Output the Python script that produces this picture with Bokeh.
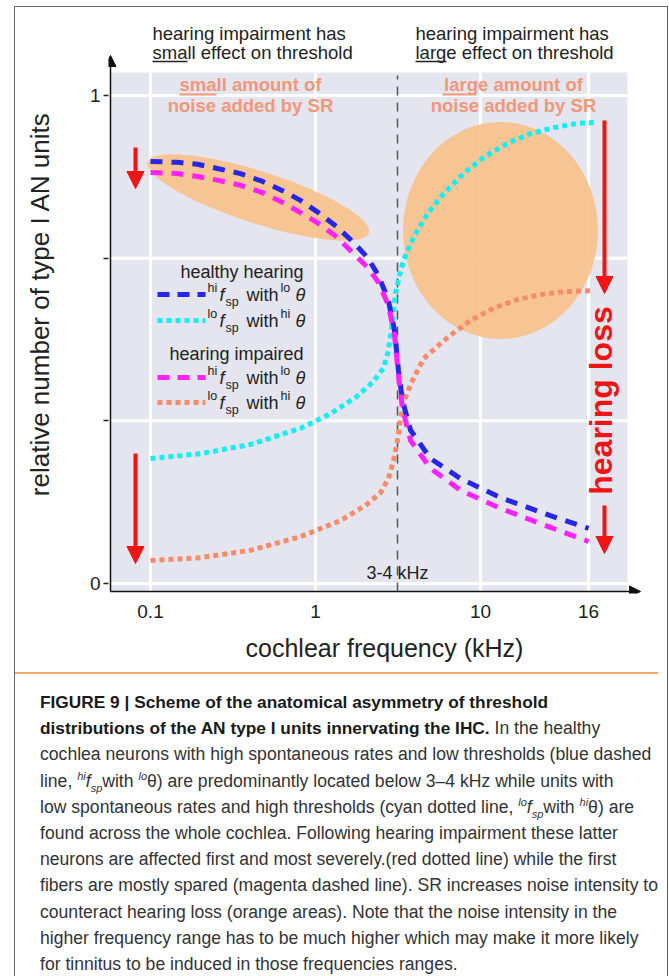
import numpy as np
from bokeh.plotting import figure
from bokeh.models import Range1d, FixedTicker, Arrow, NormalHead, Div, CustomJSTickFormatter
from bokeh.layouts import column
from bokeh.core.properties import value
from bokeh.embed import file_html
from bokeh.resources import INLINE

FONT = "Liberation Sans"

# ---- axes (x = position in decades of cochlear frequency; "16" sits at 1.655 on this schematic axis)
x_tick_pos = [-1.0, 0.0, 1.0, 1.655]
x_tick_labels = ["0.1", "1", "10", "16"]
y_tick_pos = [0.0, 1 / 3, 2 / 3, 1.0]
y_tick_labels = ["0", "", "", "1"]
boundary_x = 0.497          # 3-4 kHz border

# ---- series
healthy_hi_x = [-1.000, -0.836, -0.715, -0.588, -0.455, -0.321, -0.200, -0.091, 0.018, 0.133, 0.230, 0.315,
                0.382, 0.442, 0.479, 0.503, 0.527, 0.576, 0.697, 0.879, 1.121, 1.424, 1.655]
healthy_hi_y = [0.865, 0.863, 0.859, 0.850, 0.840, 0.824, 0.805, 0.785, 0.760, 0.730, 0.699, 0.668,
                0.631, 0.580, 0.518, 0.436, 0.375, 0.314, 0.256, 0.215, 0.176, 0.139, 0.113]

impaired_hi_x = [-1.000, -0.836, -0.715, -0.588, -0.455, -0.321, -0.200, -0.091, 0.018, 0.133, 0.224, 0.315,
                 0.382, 0.442, 0.479, 0.503, 0.527, 0.576, 0.697, 0.879, 1.121, 1.424, 1.655]
impaired_hi_y = [0.842, 0.840, 0.834, 0.826, 0.816, 0.801, 0.781, 0.760, 0.738, 0.709, 0.678, 0.648,
                 0.617, 0.570, 0.508, 0.426, 0.359, 0.293, 0.236, 0.191, 0.154, 0.115, 0.086]

healthy_lo_x = [-1.000, -0.697, -0.394, -0.091, 0.091, 0.242, 0.345, 0.412, 0.442, 0.467, 0.485, 0.509,
                0.533, 0.594, 0.679, 0.776, 0.897, 1.018, 1.164, 1.303, 1.442, 1.588, 1.709]
healthy_lo_y = [0.256, 0.266, 0.285, 0.318, 0.348, 0.381, 0.412, 0.441, 0.477, 0.539, 0.594, 0.631,
                0.662, 0.709, 0.758, 0.799, 0.840, 0.873, 0.902, 0.922, 0.934, 0.943, 0.945]

impaired_lo_x = [-1.000, -0.697, -0.394, -0.091, 0.152, 0.303, 0.394, 0.442, 0.473, 0.497, 0.515, 0.539,
                 0.576, 0.655, 0.800, 0.939, 1.079, 1.224, 1.364, 1.503, 1.685]
impaired_lo_y = [0.047, 0.053, 0.068, 0.096, 0.129, 0.160, 0.186, 0.215, 0.252, 0.293, 0.338, 0.375,
                 0.408, 0.461, 0.504, 0.539, 0.564, 0.582, 0.592, 0.598, 0.600]

# orange "noise added by SR" areas (centre x, centre y)
noise_x = [-0.3455, 1.1212]
noise_y = [0.791, 0.7234]

# red "hearing loss" arrows: (x, y_start, y_end)
loss_x = [-1.0909, -1.0909, 1.7515, 1.7515]
loss_y0 = [0.8934, 0.2664, 0.9488, 0.1598]
loss_y1 = [0.8094, 0.0410, 0.5943, 0.0615]

# ---- colours
BLUE, MAGENTA, CYAN, SALMON = "#2626e8", "#ff22ff", "#11f0f4", "#fa8a68"
ORANGE_TXT = "#f0987a"
RED = "#f01414"
INK = "#222222"

# ---- figure
X0, X1 = -1.2545, 2.0909
Y0, Y1 = -0.0205, 1.166
AX_X, AX_Y = -1.2424, -0.0164        # where the drawn axis lines sit
BG_R, BG_T = 1.891, 1.047

p = figure(width=652, height=665, x_range=Range1d(X0, X1), y_range=Range1d(Y0, Y1),
           output_backend="svg", toolbar_location=None,
           min_border_left=93, min_border_right=7, min_border_top=7, min_border_bottom=79,
           background_fill_color="white", border_fill_color="white", outline_line_color=None)
p.xgrid.visible = False
p.ygrid.visible = False

fmt_code = """
let best = 0, d = 1e9;
for (let i = 0; i < pos.length; i++) { const dd = Math.abs(pos[i] - tick); if (dd < d) { d = dd; best = i; } }
return lab[best];
"""
p.xaxis.ticker = FixedTicker(ticks=x_tick_pos)
p.xaxis.formatter = CustomJSTickFormatter(args=dict(pos=x_tick_pos, lab=x_tick_labels), code=fmt_code)
p.yaxis.ticker = FixedTicker(ticks=y_tick_pos)
p.yaxis.formatter = CustomJSTickFormatter(args=dict(pos=y_tick_pos, lab=y_tick_labels), code=fmt_code)

for ax in (p.xaxis[0], p.yaxis[0]):
    ax.axis_line_color = None
    ax.minor_tick_in = 0
    ax.minor_tick_out = 0
    ax.major_tick_in = 0
    ax.major_label_text_font = FONT
    ax.major_label_text_font_size = "19px"
    ax.major_label_text_color = INK
    ax.axis_label_text_font = FONT
    ax.axis_label_text_font_style = "normal"
    ax.axis_label_text_color = INK

p.yaxis.major_tick_out = 5
p.yaxis.major_tick_line_width = 1.5
p.yaxis.major_tick_line_color = INK
p.yaxis.major_label_standoff = 3
p.yaxis.axis_label = "relative number of type I AN units"
p.yaxis.axis_label_text_font_size = "26px"
p.yaxis.axis_label_standoff = 32

p.xaxis.major_tick_out = 0
p.xaxis.major_label_standoff = 11
p.xaxis.axis_label = "cochlear frequency (kHz)"
p.xaxis.axis_label_text_font_size = "25px"
p.xaxis.axis_label_standoff = 13

# plot background and white grid
p.quad(left=[AX_X], right=[BG_R], bottom=[AX_Y], top=[BG_T], fill_color="#e5e5ef", line_color=None)
p.segment(x0=x_tick_pos, y0=[AX_Y] * 4, x1=x_tick_pos, y1=[BG_T] * 4, line_color="white", line_width=3)
p.segment(x0=[AX_X] * 4, y0=y_tick_pos, x1=[BG_R] * 4, y1=y_tick_pos, line_color="white", line_width=3)

# orange noise areas
p.ellipse(x=noise_x, y=noise_y, width=[232, 195], height=[52, 217], angle=[-0.31, 0.0],
          width_units="screen", height_units="screen",
          fill_color="#f9c28c", fill_alpha=0.92, line_color=None)

# 3-4 kHz boundary
p.segment(x0=[boundary_x], y0=[AX_Y], x1=[boundary_x], y1=[1.041], line_color="#555555",
          line_width=1.5, line_dash="9 7")

# curves
p.line(impaired_lo_x, impaired_lo_y, line_color=SALMON, line_width=5, line_dash="5 4")
p.line(healthy_lo_x, healthy_lo_y, line_color=CYAN, line_width=5, line_dash="5 4")
p.line(healthy_hi_x, healthy_hi_y, line_color=BLUE, line_width=5, line_dash="12 9")
p.line(impaired_hi_x, impaired_hi_y, line_color=MAGENTA, line_width=5, line_dash="12 9")

# axis lines with arrow heads
p.add_layout(Arrow(end=NormalHead(size=11, fill_color="#111111", line_color="#111111"),
                   x_start=AX_X, y_start=AX_Y, x_end=AX_X, y_end=1.082, line_width=1.5, line_color="#111111"))
p.add_layout(Arrow(end=NormalHead(size=11, fill_color="#111111", line_color="#111111"),
                   x_start=AX_X, y_start=AX_Y, x_end=1.970, y_end=AX_Y, line_width=1.5, line_color="#111111"))

# red hearing-loss arrows
for xx, ya, yb in zip(loss_x, loss_y0, loss_y1):
    p.add_layout(Arrow(end=NormalHead(size=17, fill_color=RED, line_color=RED),
                       x_start=xx, y_start=ya, x_end=xx, y_end=yb, line_width=4, line_color=RED))

p.text(x=[1.7333], y=[0.375], text=["hearing loss"], angle=np.pi / 2, text_align="center",
       text_baseline="middle", text_font=value(FONT), text_font_size=value("32px"),
       text_font_style="bold", text_color=RED)

# header texts
p.text(x=[-0.9879, -0.9879, 0.6061, 0.6061], y=[1.127, 1.088, 1.127, 1.088],
       text=["hearing impairment has", "small effect on threshold",
             "hearing impairment has", "large effect on threshold"],
       text_align="left", text_baseline="middle", text_font=value(FONT),
       text_font_size=value("18.5px"), text_color=INK)
p.segment(x0=[-0.9879, 0.6061], y0=[1.0697, 1.0697], x1=[-0.7758, 0.7939], y1=[1.0697, 1.0697],
          line_color=INK, line_width=1.3)

p.text(x=[-0.394, -0.394, 1.20, 1.20], y=[1.0225, 0.9795, 1.0225, 0.9795],
       text=["small amount of", "noise added by SR", "large amount of", "noise added by SR"],
       text_align="center", text_baseline="middle", text_font=value(FONT),
       text_font_size=value("18.5px"), text_font_style="bold", text_color=ORANGE_TXT)
p.segment(x0=[-0.8242, 0.7697], y0=[1.002, 1.002], x1=[-0.600, 0.9758], y1=[1.002, 1.002],
          line_color=ORANGE_TXT, line_width=2)

p.text(x=[boundary_x], y=[0.0205], text=["3-4 kHz"], text_align="center", text_baseline="middle",
       text_font=value(FONT), text_font_size=value("18px"), text_color=INK)

# legend
leg_rows_y = [0.5922, 0.5389, 0.4221, 0.3709]
leg_colors = [BLUE, CYAN, MAGENTA, SALMON]
leg_dash = ["12 8", "5 4", "12 8", "5 4"]
leg_sup1 = ["hi", "lo", "hi", "lo"]
leg_sup2 = ["lo", "hi", "lo", "hi"]
p.text(x=[-0.0727, -0.0727], y=[0.6393, 0.4713], text=["healthy hearing", "hearing impaired"],
       text_align="right", text_baseline="middle", text_font=value(FONT),
       text_font_size=value("18px"), text_color=INK)
for yy, c, d in zip(leg_rows_y, leg_colors, leg_dash):
    p.line([-0.9576, -0.6667], [yy, yy], line_color=c, line_width=5, line_dash=d)
sup_dy, sub_dy = 0.0125, 0.0145
p.text(x=[-0.6545] * 4, y=[v + sup_dy for v in leg_rows_y], text=leg_sup1, text_align="left",
       text_baseline="middle", text_font=value(FONT), text_font_size=value("12.5px"), text_color=INK)
p.text(x=[-0.5818] * 4, y=leg_rows_y, text=["f"] * 4, text_align="left", text_baseline="middle",
       text_font=value(FONT), text_font_size=value("18px"), text_font_style="italic", text_color=INK)
p.text(x=[-0.5455] * 4, y=[v - sub_dy for v in leg_rows_y], text=["sp"] * 4, text_align="left",
       text_baseline="middle", text_font=value(FONT), text_font_size=value("12.5px"), text_color=INK)
p.text(x=[-0.4182] * 4, y=leg_rows_y, text=["with"] * 4, text_align="left", text_baseline="middle",
       text_font=value(FONT), text_font_size=value("18px"), text_color=INK)
p.text(x=[-0.2121] * 4, y=[v + sup_dy for v in leg_rows_y], text=leg_sup2, text_align="left",
       text_baseline="middle", text_font=value(FONT), text_font_size=value("12.5px"), text_color=INK)
p.text(x=[-0.1212] * 4, y=leg_rows_y, text=["θ"] * 4, text_align="left", text_baseline="middle",
       text_font=value(FONT), text_font_size=value("18px"), text_font_style="italic", text_color=INK)

# ---- caption
SUP = '<sup style="font-size:11px;line-height:0;font-style:italic">'
SUB = '<sub style="font-size:11px;line-height:0;font-style:italic">'
BOLD = '<b style="color:#1a1a1a;font-size:17.3px">'
caption_lines = [
    BOLD + 'FIGURE 9 | Scheme of the anatomical asymmetry of threshold</b>',
    BOLD + 'distributions of the AN type I units innervating the IHC.</b> In the healthy',
    'cochlea neurons with high spontaneous rates and low thresholds (blue dashed',
    'line, ' + SUP + 'hi</sup><i>f</i>' + SUB + 'sp</sub>with ' + SUP + 'lo</sup>θ) are predominantly located below 3–4 kHz while units with',
    'low spontaneous rates and high thresholds (cyan dotted line, ' + SUP + 'lo</sup><i>f</i>' + SUB + 'sp</sub>with ' + SUP + 'hi</sup>θ) are',
    'found across the whole cochlea. Following hearing impairment these latter',
    'neurons are affected first and most severely.(red dotted line) while the first',
    'fibers are mostly spared (magenta dashed line). SR increases noise intensity to',
    'counteract hearing loss (orange areas). Note that the noise intensity in the',
    'higher frequency range has to be much higher which may make it more likely',
    'for tinnitus to be induced in those frequencies ranges.',
]
cap_html = ('<div style="font-family:\'Liberation Sans\',Arial,sans-serif;font-size:17.6px;line-height:26.2px;'
            'color:#333;white-space:nowrap;padding:15px 0 0 25px;border-top:2px solid #f2a765;'
            'height:304px;box-sizing:border-box;overflow:hidden;">'
            + '<br>'.join(caption_lines) + '</div>')
cap = Div(text=cap_html, width=652, height=304, margin=(0, 0, 0, 0))

layout = column(p, cap, margin=(6, 0, 0, 14),
                styles={"border-top": "1px solid #666", "border-left": "1px solid #666",
                        "border-right": "1px solid #666"})

open("out.html", "w").write(file_html(layout, INLINE))
